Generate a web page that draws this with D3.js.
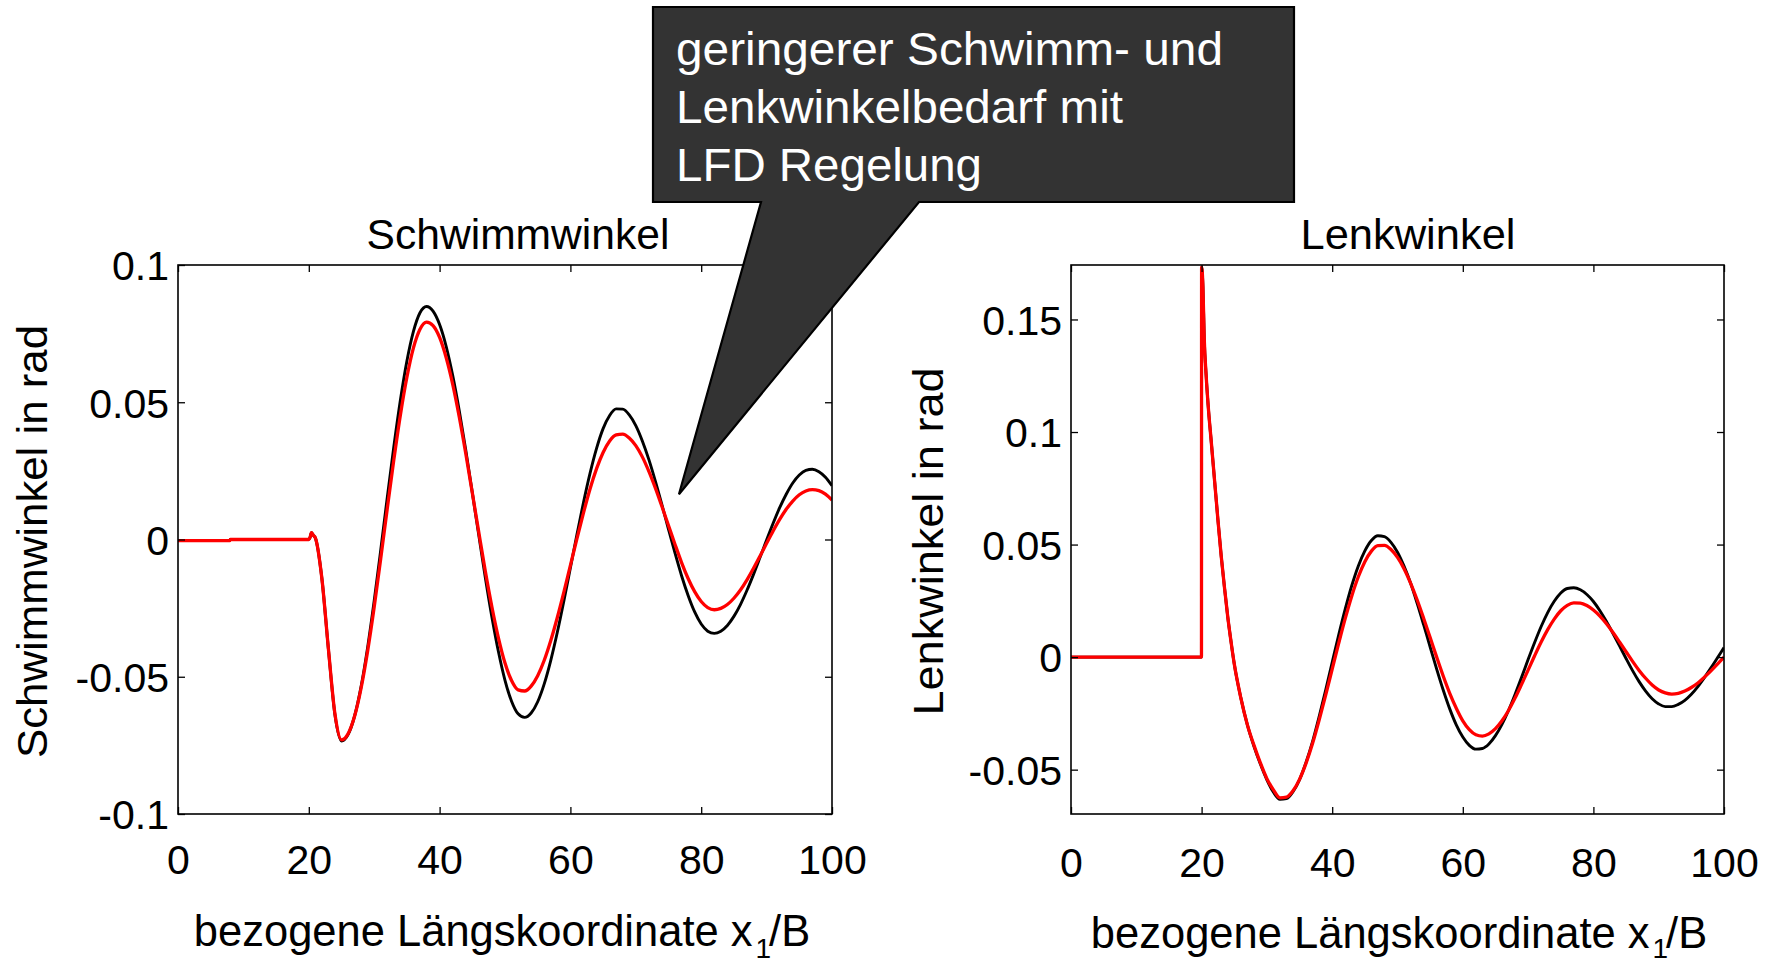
<!DOCTYPE html>
<html>
<head>
<meta charset="utf-8">
<script src="https://cdn.jsdelivr.net/npm/d3@7"></script>
<style>
  body { margin: 0; background: #ffffff; }
  svg text { font-family: "Liberation Sans", Arial, Helvetica, sans-serif; fill: #000; }
</style>
</head>
<body>
<svg id="chart" width="1773" height="970"></svg>
<script>
// ---------- Data: sideslip angle (Schwimmwinkel), x1/B vs rad ----------
const schwimmX = [0, 7.9, 8, 20, 20.2, 20.4, 20.7,
  21, 22, 23, 24, 25, 26, 27, 28, 29, 30, 31, 32, 33, 34, 35, 36, 37, 38, 39, 40,
  41, 42, 43, 44, 45, 46, 47, 48, 49, 50, 51, 52, 53, 54, 55, 56, 57, 58, 59, 60,
  61, 62, 63, 64, 65, 66, 67, 68, 69, 70, 71, 72, 73, 74, 75, 76, 77, 78, 79, 80,
  81, 82, 83, 84, 85, 86, 87, 88, 89, 90, 91, 92, 93, 94, 95, 96, 97, 98, 99, 100];

// without LFD control (black)
const schwimmOhne = [-0.0004, -0.0004, 0, 0, 0.0008, 0.0025, 0.0015,
  0.0006, -0.0142, -0.0400, -0.0639, -0.0734, -0.0711, -0.0643, -0.0535, -0.0392, -0.0223,
  -0.0038, 0.0153, 0.0338, 0.0507, 0.0650, 0.0758, 0.0826, 0.0849, 0.0832, 0.0783,
  0.0704, 0.0598, 0.0470, 0.0326, 0.0171, 0.0014, -0.0140, -0.0283, -0.0409, -0.0513,
  -0.0589, -0.0635, -0.0648, -0.0632, -0.0591, -0.0526, -0.0440, -0.0338, -0.0224, -0.0103,
  0.0018, 0.0135, 0.0241, 0.0332, 0.0404, 0.0452, 0.0476, 0.0475, 0.0454, 0.0415,
  0.0359, 0.0291, 0.0212, 0.0126, 0.0037, -0.0050, -0.0132, -0.0204, -0.0264, -0.0308,
  -0.0334, -0.0342, -0.0334, -0.0313, -0.0280, -0.0237, -0.0185, -0.0127, -0.0065, -0.0002,
  0.0059, 0.0116, 0.0165, 0.0206, 0.0235, 0.0252, 0.0256, 0.0247, 0.0227, 0.0196];

// with LFD control (red)
const schwimmLFD = [-0.0004, -0.0004, 0, 0, 0.0008, 0.0025, 0.0015,
  0.0006, -0.0142, -0.0399, -0.0636, -0.0730, -0.0708, -0.0644, -0.0541, -0.0406, -0.0246,
  -0.0069, 0.0113, 0.0290, 0.0453, 0.0591, 0.0698, 0.0766, 0.0792, 0.0779, 0.0736,
  0.0663, 0.0566, 0.0447, 0.0313, 0.0170, 0.0025, -0.0117, -0.0246, -0.0359, -0.0450,
  -0.0514, -0.0548, -0.0552, -0.0534, -0.0496, -0.0440, -0.0368, -0.0284, -0.0192, -0.0094,
  0.0003, 0.0097, 0.0184, 0.0258, 0.0317, 0.0359, 0.0381, 0.0384, 0.0370, 0.0342,
  0.0301, 0.0248, 0.0187, 0.0120, 0.0051, -0.0018, -0.0084, -0.0142, -0.0190, -0.0226,
  -0.0248, -0.0256, -0.0251, -0.0237, -0.0214, -0.0184, -0.0147, -0.0105, -0.0060, -0.0014,
  0.0031, 0.0073, 0.0110, 0.0140, 0.0163, 0.0177, 0.0182, 0.0178, 0.0165, 0.0144];

// ---------- Data: steering angle (Lenkwinkel), x1/B vs rad ----------
const lenkX = [0, 19.98, 20, 20.2, 20.4, 20.7, 21, 21.5, 22, 22.5, 23, 23.5, 24, 24.5, 25,
  26, 27, 28, 29, 30, 31, 32, 33, 34, 35, 36, 37, 38, 39, 40,
  41, 42, 43, 44, 45, 46, 47, 48, 49, 50, 51, 52, 53, 54, 55, 56, 57, 58, 59, 60,
  61, 62, 63, 64, 65, 66, 67, 68, 69, 70, 71, 72, 73, 74, 75, 76, 77, 78, 79, 80,
  81, 82, 83, 84, 85, 86, 87, 88, 89, 90, 91, 92, 93, 94, 95, 96, 97, 98, 99, 100];

const lenkOhne = [0, 0, 0.1732, 0.165, 0.142, 0.125, 0.112, 0.095, 0.078, 0.061, 0.045, 0.031, 0.018, 0.007, -0.003,
  -0.018, -0.030, -0.0395, -0.0475, -0.0545, -0.0600, -0.0632,
  -0.0629, -0.0598, -0.0544, -0.0467, -0.0374, -0.0264, -0.0146, -0.0023,
  0.0099, 0.0214, 0.0318, 0.0405, 0.0472, 0.0518, 0.0539, 0.0535, 0.0510, 0.0466,
  0.0404, 0.0329, 0.0240, 0.0144, 0.0045, -0.0053, -0.0146, -0.0230, -0.0301, -0.0355,
  -0.0392, -0.0409, -0.0406, -0.0386, -0.0349, -0.0299, -0.0237, -0.0166, -0.0090, -0.0011,
  0.0065, 0.0136, 0.0198, 0.0248, 0.0285, 0.0305, 0.0308, 0.0299, 0.0278, 0.0247,
  0.0206, 0.0158, 0.0105, 0.0050, -0.0006, -0.0060, -0.0109, -0.0151, -0.0185, -0.0208,
  -0.0220, -0.0220, -0.0210, -0.0192, -0.0165, -0.0131, -0.0091, -0.0048, -0.0003, 0.0042];

const lenkLFD = [0, 0, 0.1732, 0.165, 0.142, 0.125, 0.112, 0.095, 0.078, 0.061, 0.045, 0.031, 0.018, 0.007, -0.003,
  -0.018, -0.030, -0.039, -0.047, -0.054, -0.059, -0.0625,
  -0.0622, -0.0594, -0.0543, -0.0471, -0.0383, -0.0280, -0.0169, -0.0053,
  0.0062, 0.0172, 0.0272, 0.0357, 0.0424, 0.0471, 0.0495, 0.0496, 0.0478, 0.0443,
  0.0393, 0.0329, 0.0255, 0.0173, 0.0087, 0.0000, -0.0084, -0.0161, -0.0227, -0.0283,
  -0.0322, -0.0345, -0.0351, -0.0341, -0.0318, -0.0283, -0.0237, -0.0182, -0.0121, -0.0058,
  0.0006, 0.0067, 0.0122, 0.0169, 0.0206, 0.0230, 0.0241, 0.0240, 0.0229, 0.0209,
  0.0182, 0.0148, 0.0109, 0.0067, 0.0024, -0.0019, -0.0059, -0.0094, -0.0124, -0.0146,
  -0.0159, -0.0164, -0.0161, -0.0151, -0.0135, -0.0115, -0.0089, -0.0061, -0.0031, 0.0000];

// ---------- Ticks ----------
const xTicks = [0, 20, 40, 60, 80, 100];
const xTickLabels = ["0", "20", "40", "60", "80", "100"];
const schwimmYTicks = [-0.1, -0.05, 0, 0.05, 0.1];
const schwimmYTickLabels = ["-0.1", "-0.05", "0", "0.05", "0.1"];
const lenkYTicks = [-0.05, 0, 0.05, 0.1, 0.15];
const lenkYTickLabels = ["-0.05", "0", "0.05", "0.1", "0.15"];

// ---------- Texts ----------
const titles = ["Schwimmwinkel", "Lenkwinkel"];
const yLabels = ["Schwimmwinkel in rad", "Lenkwinkel in rad"];
const calloutLines = ["geringerer Schwimm- und", "Lenkwinkelbedarf mit", "LFD Regelung"];
const calloutTip = [76.6, 0.0165];   // point on the Schwimmwinkel axes the callout points to

// ---------- Layout ----------
const svg = d3.select("#chart");
const TICK_FONT = 41, LABEL_FONT = 43;

const panels = [
  { left: 178, right: 832, top: 265, bottom: 814, yDomain: [-0.1, 0.1],
    xs: schwimmX, black: schwimmOhne, red: schwimmLFD,
    yTicks: schwimmYTicks, yTickLabels: schwimmYTickLabels,
    title: titles[0], titleX: 518, titleLen: 303,
    yLabel: yLabels[0], yLabelX: 47, yLabelLen: 433,
    xLabelX: 502, xLabelY: 946, xTickY: 874 },
  { left: 1071, right: 1724, top: 265, bottom: 814, yDomain: [-0.0697, 0.1742],
    xs: lenkX, black: lenkOhne, red: lenkLFD,
    yTicks: lenkYTicks, yTickLabels: lenkYTickLabels,
    title: titles[1], titleX: 1408, titleLen: 215,
    yLabel: yLabels[1], yLabelX: 943, yLabelLen: 348,
    xLabelX: 1399, xLabelY: 948, xTickY: 877 }
];
const SUB_BASELINE = 958;

panels.forEach((p, i) => {
  const x = d3.scaleLinear().domain([0, 100]).range([p.left, p.right]);
  const y = d3.scaleLinear().domain(p.yDomain).range([p.bottom, p.top]);
  p.x = x; p.y = y;
  const g = svg.append("g");

  const clipId = "clip" + i;
  svg.append("clipPath").attr("id", clipId).append("rect")
    .attr("x", p.left).attr("y", p.top - 2)
    .attr("width", p.right - p.left).attr("height", p.bottom - p.top + 4);

  // Curves: black (without control) underneath, red (LFD control) on top
  const line = d3.line().x(d => x(d[0])).y(d => y(d[1])).curve(d3.curveMonotoneX);
  const series = [
    { vals: p.black, color: "#000000", width: 2.9 },
    { vals: p.red, color: "#ff0000", width: 3.3 }
  ];
  series.forEach(s => {
    g.append("path")
      .datum(p.xs.map((xv, k) => [xv, s.vals[k]]))
      .attr("clip-path", `url(#${clipId})`)
      .attr("fill", "none")
      .attr("stroke", s.color)
      .attr("stroke-width", s.width)
      .attr("stroke-linejoin", "round")
      .attr("d", line);
  });

  // Axes with inward ticks on all four sides
  const tickLen = 7;
  const bottomAxis = d3.axisBottom(x).tickValues(xTicks)
    .tickFormat((d, k) => xTickLabels[k]).tickSize(-tickLen).tickPadding(0);
  const gb = g.append("g").attr("transform", `translate(0,${p.bottom})`).call(bottomAxis);
  gb.selectAll("text").attr("y", p.xTickY - p.bottom).attr("dy", null)
    .style("font-size", TICK_FONT + "px");

  const topAxis = d3.axisTop(x).tickValues(xTicks).tickFormat("").tickSize(-tickLen);
  g.append("g").attr("transform", `translate(0,${p.top})`).call(topAxis);

  const leftAxis = d3.axisLeft(y).tickValues(p.yTicks)
    .tickFormat((d, k) => p.yTickLabels[k]).tickSize(-tickLen).tickPadding(9);
  const gl = g.append("g").attr("transform", `translate(${p.left},0)`).call(leftAxis);
  gl.selectAll("text").attr("dy", "0.36em").style("font-size", TICK_FONT + "px");

  const rightAxis = d3.axisRight(y).tickValues(p.yTicks).tickFormat("").tickSize(-tickLen);
  g.append("g").attr("transform", `translate(${p.right},0)`).call(rightAxis);

  g.selectAll(".domain").remove();
  g.selectAll(".tick line").attr("stroke", "#000").attr("stroke-width", 1.3);

  // Plot frame
  g.append("rect")
    .attr("x", p.left).attr("y", p.top)
    .attr("width", p.right - p.left).attr("height", p.bottom - p.top)
    .attr("fill", "none").attr("stroke", "#000").attr("stroke-width", 1.6);

  // Title
  g.append("text")
    .attr("x", p.titleX).attr("y", 249)
    .attr("text-anchor", "middle")
    .attr("textLength", p.titleLen).attr("lengthAdjust", "spacingAndGlyphs")
    .style("font-size", LABEL_FONT + "px")
    .text(p.title);

  // Y label
  g.append("text")
    .attr("transform", `translate(${p.yLabelX},${(p.top + p.bottom) / 2 + 2}) rotate(-90)`)
    .attr("text-anchor", "middle")
    .attr("textLength", p.yLabelLen).attr("lengthAdjust", "spacingAndGlyphs")
    .style("font-size", LABEL_FONT + "px")
    .text(p.yLabel);

  // X label with subscript
  const xl = g.append("text")
    .attr("x", p.xLabelX).attr("y", p.xLabelY)
    .attr("text-anchor", "middle")
    .style("font-size", "43.5px");
  xl.append("tspan").text("bezogene Längskoordinate x");
  xl.append("tspan").attr("dy", SUB_BASELINE - p.xLabelY).attr("dx", 3).style("font-size", "28px").text("1");
  xl.append("tspan").attr("dy", p.xLabelY - SUB_BASELINE).attr("dx", -2).text("/B");
});

// ---------- Callout ----------
const box = { left: 653, right: 1294, top: 7, bottom: 202, baseL: 761, baseR: 919 };
const tip = [panels[0].x(calloutTip[0]), panels[0].y(calloutTip[1])];
const cp = d3.path();
cp.moveTo(box.left, box.top);
cp.lineTo(box.right, box.top);
cp.lineTo(box.right, box.bottom);
cp.lineTo(box.baseR, box.bottom);
cp.lineTo(tip[0], tip[1]);
cp.lineTo(box.baseL, box.bottom);
cp.lineTo(box.left, box.bottom);
cp.closePath();
svg.append("path").attr("d", cp.toString())
  .attr("fill", "#333333").attr("stroke", "#000").attr("stroke-width", 2.2)
  .attr("stroke-linejoin", "miter");

const calloutLens = [547, 447, 306];
svg.append("g").selectAll("text").data(calloutLines).join("text")
  .attr("x", 676).attr("y", (d, k) => 65 + k * 58)
  .attr("textLength", (d, k) => calloutLens[k]).attr("lengthAdjust", "spacingAndGlyphs")
  .style("font-size", "47px").style("fill", "#ffffff")
  .text(d => d);
</script>
</body>
</html>
